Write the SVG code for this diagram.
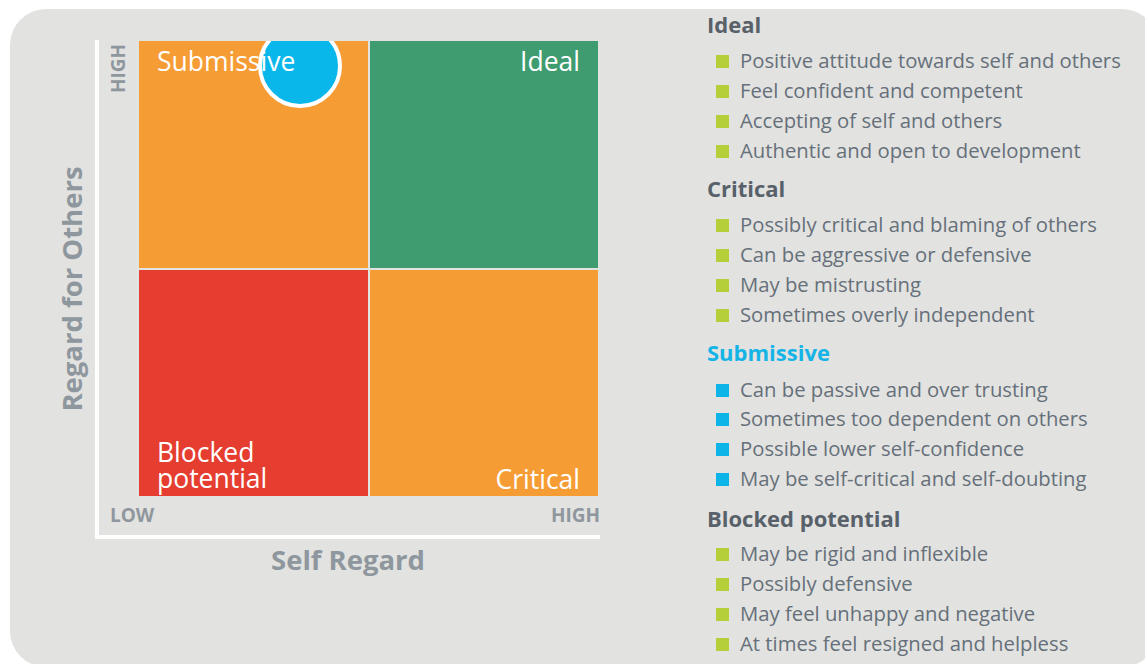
<svg xmlns="http://www.w3.org/2000/svg" width="1145" height="664" viewBox="0 0 1145 664">
  <defs>
    <clipPath id="clip-tl">
      <rect x="139" y="41" width="229" height="227"/>
    </clipPath>
    <style>
      .q-label { font-family: "Open Sans", "Noto Sans", sans-serif; font-size: 26.5px; fill: #ffffff; }
      .axis-tick { font-family: "Open Sans", "Noto Sans", sans-serif; font-size: 19px; font-weight: 700; fill: #8f979e; }
      .axis-title { font-family: "Open Sans", "Noto Sans", sans-serif; font-size: 27.5px; font-weight: 700; fill: #8f979e; }
      .heading { font-family: "Open Sans", "Noto Sans", sans-serif; font-size: 22px; font-weight: 700; fill: #58616a; }
      .heading.sub { fill: #14b4e6; }
      .item { font-family: "Open Sans", "Noto Sans", sans-serif; font-size: 20.3px; fill: #66707a; }
      .b-green { fill: #b5cf3a; }
      .b-cyan { fill: #0cb4e8; }
    </style>
  </defs>

  <!-- page and panel -->
  <rect x="0" y="0" width="1145" height="664" fill="#ffffff"/>
  <rect x="10" y="9" width="1148" height="658" rx="36" ry="36" fill="#e2e2e0"/>

  <!-- axes -->
  <g id="axes">
    <rect x="95" y="40" width="4" height="499" fill="#ffffff"/>
    <rect x="95" y="535" width="505" height="4" fill="#ffffff"/>
    <text class="axis-tick" transform="translate(125,93) rotate(-90)">HIGH</text>
    <text class="axis-tick" x="110" y="522">LOW</text>
    <text class="axis-tick" x="600" y="522" text-anchor="end">HIGH</text>
    <text class="axis-title" x="348" y="570" text-anchor="middle">Self Regard</text>
    <text class="axis-title" transform="translate(82,289) rotate(-90)" text-anchor="middle">Regard for Others</text>
  </g>

  <!-- quadrants -->
  <g id="q-submissive">
    <rect x="139" y="41" width="229" height="227" fill="#f69c35"/>
    <circle cx="300" cy="66" r="40" fill="#0ab7ea" stroke="#ffffff" stroke-width="4" clip-path="url(#clip-tl)"/>
    <text class="q-label" x="157" y="71">Submissive</text>
  </g>
  <g id="q-ideal">
    <rect x="370" y="41" width="228" height="227" fill="#3f9b70"/>
    <text class="q-label" x="580" y="71" text-anchor="end">Ideal</text>
  </g>
  <g id="q-blocked">
    <rect x="139" y="270" width="229" height="226" fill="#e53d2f"/>
    <text class="q-label" x="157" y="462">Blocked<tspan x="157" dy="26">potential</tspan></text>
  </g>
  <g id="q-critical">
    <rect x="370" y="270" width="228" height="226" fill="#f69c35"/>
    <text class="q-label" x="580" y="489" text-anchor="end">Critical</text>
  </g>

  <!-- descriptions -->
  <g id="list-ideal">
    <text class="heading" x="707" y="33">Ideal</text>
    <rect class="b-green" x="716" y="55" width="13" height="13"/>
    <text class="item" x="740" y="68">Positive attitude towards self and others</text>
    <rect class="b-green" x="716" y="85" width="13" height="13"/>
    <text class="item" x="740" y="98">Feel confident and competent</text>
    <rect class="b-green" x="716" y="115" width="13" height="13"/>
    <text class="item" x="740" y="128">Accepting of self and others</text>
    <rect class="b-green" x="716" y="145" width="13" height="13"/>
    <text class="item" x="740" y="158">Authentic and open to development</text>
  </g>
  <g id="list-critical">
    <text class="heading" x="707" y="197">Critical</text>
    <rect class="b-green" x="716" y="219" width="13" height="13"/>
    <text class="item" x="740" y="232">Possibly critical and blaming of others</text>
    <rect class="b-green" x="716" y="249" width="13" height="13"/>
    <text class="item" x="740" y="262">Can be aggressive or defensive</text>
    <rect class="b-green" x="716" y="279" width="13" height="13"/>
    <text class="item" x="740" y="292">May be mistrusting</text>
    <rect class="b-green" x="716" y="309" width="13" height="13"/>
    <text class="item" x="740" y="322">Sometimes overly independent</text>
  </g>
  <g id="list-submissive">
    <text class="heading sub" x="707" y="361">Submissive</text>
    <rect class="b-cyan" x="716" y="384" width="13" height="13"/>
    <text class="item" x="740" y="397">Can be passive and over trusting</text>
    <rect class="b-cyan" x="716" y="413" width="13" height="13"/>
    <text class="item" x="740" y="426">Sometimes too dependent on others</text>
    <rect class="b-cyan" x="716" y="443" width="13" height="13"/>
    <text class="item" x="740" y="456">Possible lower self-confidence</text>
    <rect class="b-cyan" x="716" y="473" width="13" height="13"/>
    <text class="item" x="740" y="486">May be self-critical and self-doubting</text>
  </g>
  <g id="list-blocked">
    <text class="heading" x="707" y="527">Blocked potential</text>
    <rect class="b-green" x="716" y="548" width="13" height="13"/>
    <text class="item" x="740" y="561">May be rigid and inflexible</text>
    <rect class="b-green" x="716" y="578" width="13" height="13"/>
    <text class="item" x="740" y="591">Possibly defensive</text>
    <rect class="b-green" x="716" y="608" width="13" height="13"/>
    <text class="item" x="740" y="621">May feel unhappy and negative</text>
    <rect class="b-green" x="716" y="638" width="13" height="13"/>
    <text class="item" x="740" y="651">At times feel resigned and helpless</text>
  </g>
</svg>
